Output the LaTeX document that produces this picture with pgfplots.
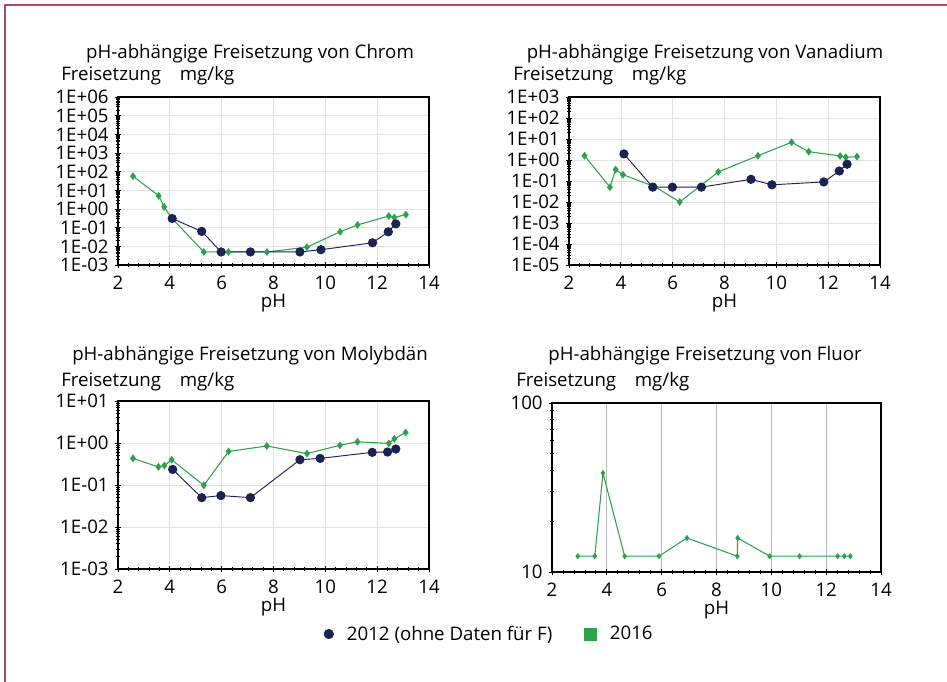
\documentclass[border=0pt]{standalone}
\usepackage{fontspec}
\setmainfont{Open Sans}
\usepackage{pgfplots}
\pgfplotsset{compat=1.18}
\definecolor{navy}{HTML}{1B2350}
\definecolor{grn}{HTML}{2DA24A}
\definecolor{framec}{HTML}{A64B74}
\definecolor{gridc}{HTML}{E2E2E2}

\pgfplotsset{
  mypanel/.style={
    scale only axis, width=233.25pt, height=126pt,
    anchor=south west,
    xmin=2, xmax=14, xtick={2,4,...,14}, minor x tick num=4,
    font=\fontsize{14}{16}\selectfont,
    /pgf/number format/assume math mode=true,
    tick align=center, major tick length=5pt, minor tick length=3pt,
    xtick pos=bottom, ytick pos=left,
    axis line style={black, line width=0.8pt},
    tick style={black, line width=0.6pt},
    grid=major, grid style={gridc, line width=0.5pt},
    xlabel={pH},
    xlabel style={at={(axis description cs:0.5,0)}, anchor=center, yshift=-28.5pt},
    xticklabel style={yshift=-2.5pt},
    yticklabel style={xshift=-1pt},
  },
  y2012/.style={navy, line width=0.7pt, mark=*, mark size=3.1pt},
  y2016/.style={grn, line width=0.8pt, mark=diamond*, mark size=2.3pt},
}

\begin{document}
\begin{tikzpicture}
\useasboundingbox (0,0) rectangle (710.25pt,-511.5pt);
\draw[framec, line width=1.5pt] (3.75pt,-511.5pt) -- (3.75pt,-3.4pt) -- (710.25pt,-3.4pt);

% Chrom
\begin{semilogyaxis}[mypanel, at={(88.5pt,-198.75pt)},
  ymin=1e-3, ymax=1e6,
  ytick={1e-3,1e-2,1e-1,1,1e1,1e2,1e3,1e4,1e5,1e6},
  yticklabels={1E-03,1E-02,1E-01,1E+00,1E+01,1E+02,1E+03,1E+04,1E+05,1E+06}]
\addplot[y2016] coordinates {(2.58,57) (3.57,5.1) (3.78,1.3) (4.06,0.34) (5.31,0.005) (6.26,0.005) (7.75,0.005) (9.29,0.009) (10.57,0.06) (11.24,0.14) (12.45,0.42) (12.66,0.35) (13.11,0.5)};
\addplot[y2012] coordinates {(4.09,0.31) (5.23,0.063) (5.98,0.005) (7.11,0.005) (9.02,0.005) (9.83,0.0066) (11.82,0.0155) (12.43,0.06) (12.72,0.16)};
\end{semilogyaxis}

% Vanadium
\begin{semilogyaxis}[mypanel, at={(426.75pt,-198.75pt)},
  ymin=1e-5, ymax=1e3,
  ytick={1e-5,1e-4,1e-3,1e-2,1e-1,1,1e1,1e2,1e3},
  yticklabels={1E-05,1E-04,1E-03,1E-02,1E-01,1E+00,1E+01,1E+02,1E+03}]
\addplot[y2016] coordinates {(2.6,1.6) (3.58,0.051) (3.8,0.35) (4.08,0.2) (5.32,0.053) (6.27,0.01) (7.76,0.27) (9.29,1.6) (10.59,7) (11.25,2.5) (12.46,1.55) (12.68,1.35) (13.11,1.45)};
\addplot[y2012] coordinates {(4.12,1.95) (5.23,0.051) (5.99,0.051) (7.11,0.051) (9.02,0.12) (9.83,0.066) (11.83,0.09) (12.43,0.30) (12.73,0.63)};
\end{semilogyaxis}

% Molybdaen
\begin{semilogyaxis}[mypanel, at={(88.5pt,-426.75pt)},
  ymin=1e-3, ymax=1e1,
  ytick={1e-3,1e-2,1e-1,1,1e1},
  yticklabels={1E-03,1E-02,1E-01,1E+00,1E+01},
  legend style={at={(1.195,-0.387)}, anchor=center, draw=none, fill=none,
    legend columns=2, font=\fontsize{14}{16}\selectfont,
    /tikz/every odd column/.append style={column sep=8pt},
    /tikz/every even column/.append style={column sep=22pt}}]
\addlegendimage{only marks, mark=*, navy, mark size=3.6pt}
\addlegendentry{2012 (ohne Daten für F)}
\addlegendimage{only marks, mark=square*, grn, mark size=4.6pt}
\addlegendentry{2016}
\addplot[y2016, forget plot] coordinates {(2.58,0.43) (3.56,0.27) (3.79,0.29) (4.07,0.40) (5.31,0.098) (6.27,0.63) (7.74,0.85) (9.29,0.56) (10.56,0.88) (11.24,1.07) (12.45,0.98) (12.66,1.26) (13.1,1.78)};
\addplot[y2012, forget plot] coordinates {(4.11,0.235) (5.23,0.05) (5.97,0.056) (7.11,0.05) (9.02,0.40) (9.80,0.43) (11.81,0.60) (12.40,0.61) (12.72,0.72)};
\end{semilogyaxis}

% Fluor
\begin{semilogyaxis}[mypanel, at={(414pt,-429pt)}, width=246.75pt, height=126.75pt,
  ymin=10, ymax=100, ytick={10,100}, yticklabels={10,100},
  grid=none, xmajorgrids, grid style={gray!55, line width=0.6pt}]
\addplot[y2016, mark size=1.7pt] coordinates {(2.94,12.4) (3.56,12.4) (3.86,38.5) (4.65,12.4) (5.90,12.4) (6.92,15.9) (8.76,12.4) (8.77,15.9) (9.94,12.4) (11.03,12.4) (12.42,12.4) (12.66,12.4) (12.88,12.4)};
\end{semilogyaxis}

\begin{scope}[font=\fontsize{14}{16}\selectfont]
\node at (187.5pt,-40.5pt) {pH-abhängige Freisetzung von Chrom};
\node[anchor=west, inner sep=0pt] at (45.75pt,-57pt) {Freisetzung\quad mg/kg};
\node at (528.75pt,-40.5pt) {pH-abhängige Freisetzung von Vanadium};
\node[anchor=west, inner sep=0pt] at (384.75pt,-57pt) {Freisetzung\quad mg/kg};
\node at (187.5pt,-267pt) {pH-abhängige Freisetzung von Molybdän};
\node[anchor=west, inner sep=0pt] at (45.75pt,-286.5pt) {Freisetzung\quad mg/kg};
\node at (528.75pt,-267pt) {pH-abhängige Freisetzung von Fluor};
\node[anchor=west, inner sep=0pt] at (387pt,-286.5pt) {Freisetzung\quad mg/kg};
\end{scope}
\end{tikzpicture}
\end{document}
